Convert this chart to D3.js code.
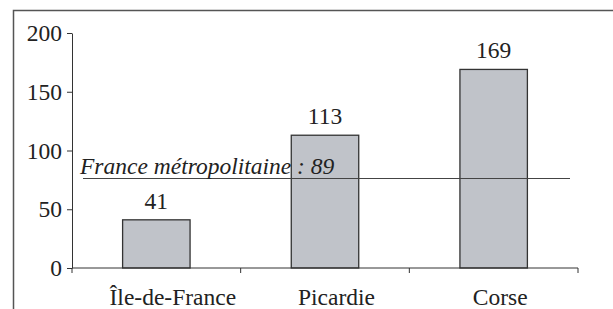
<!DOCTYPE html>
<meta charset='utf-8'>
<style>
    body {
        margin: 0;
        background: white;
    }

    svg text {
        font-family: "Liberation Serif", Tinos, "DejaVu Serif", monospace !important;
        font-size: 23.5px;
        fill: #222;
    }
</style>
<body>

<script src='https://cdn.jsdelivr.net/npm/d3@7'></script>
<script>

	// data
	let regions = ['Île-de-France', 'Picardie', 'Corse'];
	let values = [41, 113, 169];
	let yTicks = [0, 50, 100, 150, 200];
	let refText = 'France métropolitaine : 89';
	let refLevel = 77; // where the line sits on the y scale

	let font = '"Liberation Serif", Tinos, "DejaVu Serif", monospace';
	let W = 613, H = 309;
	let margin = {top: 33, left: 72, right: 35, bottom: 41};
	let width = W - margin.left - margin.right,
		height = H - margin.top - margin.bottom;

	let svg = d3.select('body').append('svg')
		.attr('width', W)
		.attr('height', H)
		.attr('font-family', font);

	// frame, open on the right and bottom
	svg.append('rect')
		.attr('x', 13.5)
		.attr('y', 10.5)
		.attr('width', 700)
		.attr('height', 400)
		.attr('fill', 'none')
		.attr('stroke', '#555')
		.attr('stroke-width', 1.5);

	let y = d3.scaleLinear()
		.domain([0, 200])
		.range([margin.top + height, margin.top]);

	let xBands = d3.scaleBand()
		.domain(regions)
		.range([margin.left, margin.left + width])
		.padding(0);

	let x = d3.scaleBand()
		.domain(regions)
		.range([margin.left, margin.left + width])
		.paddingInner(0.6)
		.paddingOuter(0.3);

	// category labels sit a little right of the bars in the original
	let xLab = d3.scaleBand()
		.domain(regions)
		.range([margin.left + 19, margin.left + width + 4]);

	let data = regions.map(function (r, i) {
		return {region: r, value: values[i]};
	});

	// bars
	svg.selectAll('.bar')
		.data(data)
		.enter().append('rect')
		.attr('class', 'bar')
		.attr('fill', '#c0c3c9')
		.attr('stroke', '#333')
		.attr('stroke-width', 1.3)
		.attr('x', function (d) { return x(d.region); })
		.attr('width', x.bandwidth())
		.attr('y', function (d) { return y(d.value); })
		.attr('height', function (d) { return y(0) - y(d.value); });

	svg.selectAll('.val')
		.data(data)
		.enter().append('text')
		.attr('class', 'val')
		.attr('x', function (d) { return x(d.region) + x.bandwidth() / 2; })
		.attr('y', function (d) { return y(d.value) - 11; })
		.attr('text-anchor', 'middle')
		.text(function (d) { return d.value; });

	// y axis
	let yAxis = svg.append('g')
		.attr('transform', 'translate(' + margin.left + ',0)')
		.call(d3.axisLeft(y).tickValues(yTicks).tickSize(5).tickSizeOuter(0).tickPadding(5));
	yAxis.attr('font-family', null).attr('font-size', null);
	yAxis.selectAll('path, line').attr('stroke', '#333');

	// x axis: ticks at band edges
	svg.append('line')
		.attr('x1', margin.left)
		.attr('x2', margin.left + width)
		.attr('y1', y(0))
		.attr('y2', y(0))
		.attr('stroke', '#333');
	let edges = regions.map(function (r) { return xBands(r); }).concat([margin.left + width]);
	svg.selectAll('.xtick')
		.data(edges)
		.enter().append('line')
		.attr('class', 'xtick')
		.attr('stroke', '#333')
		.attr('x1', function (d) { return d; })
		.attr('x2', function (d) { return d; })
		.attr('y1', y(0))
		.attr('y2', y(0) + 5);

	svg.selectAll('.cat')
		.data(regions)
		.enter().append('text')
		.attr('class', 'cat')
		.attr('x', function (d) { return xLab(d) + xLab.bandwidth() / 2; })
		.attr('y', y(0) + 37)
		.attr('text-anchor', 'middle')
		.text(function (d) { return d; });

	// reference line
	svg.append('line')
		.attr('x1', margin.left + 11)
		.attr('x2', margin.left + width - 8)
		.attr('y1', Math.round(y(refLevel)) + 0.5)
		.attr('y2', Math.round(y(refLevel)) + 0.5)
		.attr('stroke', '#444')
		.attr('stroke-width', 1.2);

	svg.append('text')
		.attr('class', 'ref')
		.attr('x', margin.left + 8)
		.attr('y', y(refLevel) - 4)
		.attr('font-style', 'italic')
		.text(refText);

	svg.selectAll('text')
		.attr('font-family', font)
		.style('font-family', font, 'important');

</script>
</body>
